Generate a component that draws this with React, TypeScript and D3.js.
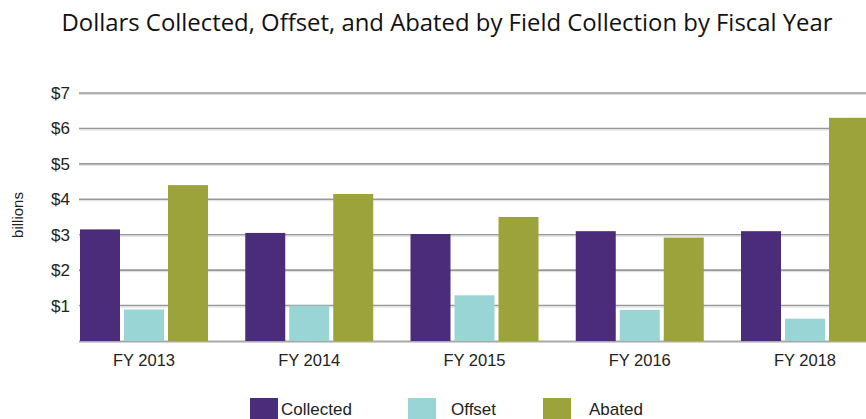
import React from "react";
import * as d3 from "d3";

const categories = ["FY 2013", "FY 2014", "FY 2015", "FY 2016", "FY 2018"];
const seriesNames = ["Collected", "Offset", "Abated"];
const collected = [3.15, 3.05, 3.02, 3.1, 3.1];
const offset = [0.89, 1.0, 1.29, 0.88, 0.63];
const abated = [4.4, 4.15, 3.5, 2.92, 6.3];
const yTicks = [1, 2, 3, 4, 5, 6, 7];
const colors = ["#4b2c7a", "#98d5d4", "#9ca33a"];
const title = "Dollars Collected, Offset, and Abated by Field Collection by Fiscal Year";

const W = 866;
const H = 419;
const left = 80;
const baseY = 341;
const topY = 93;

export default function App() {
  const series = [collected, offset, abated];
  const x0 = d3
    .scaleBand<string>()
    .domain(categories)
    .range([left, left + 4 * 165.25 + 128])
    .paddingInner(37.25 / 165.25)
    .paddingOuter(0);
  const x1 = d3
    .scaleBand<string>()
    .domain(seriesNames)
    .range([0, x0.bandwidth()])
    .paddingInner(4 / 44)
    .paddingOuter(0);
  const y = d3.scaleLinear().domain([0, 7]).range([baseY, topY]);
  const font = "'Liberation Sans', Arial, sans-serif";

  const legendItems = [
    { sx: 250, tx: 281 },
    { sx: 408, tx: 451 },
    { sx: 543, tx: 589 },
  ];

  return (
    <div style={{ position: "absolute", left: 0, top: 0 }}>
      <svg width={W} height={H} style={{ display: "block", background: "#fff" }}>
        <defs>
          <clipPath id="plotclip">
            <rect x={0} y={0} width={W} height={H} />
          </clipPath>
        </defs>
        <g transform="translate(447,31) scale(1,1.1)">
          <text
            x={0}
            y={0}
            textAnchor="middle"
            fontFamily="'Open Sans', sans-serif"
            fontSize={22}
            textLength={771}
            lengthAdjust="spacingAndGlyphs"
            fill="#111"
          >
            {title}
          </text>
        </g>
        {yTicks.map((t) => (
          <g key={t}>
            <line x1={79} x2={W} y1={y(t)} y2={y(t)} stroke="#999" strokeWidth={1.6} />
            <line x1={79} x2={W} y1={y(t) + 1.5} y2={y(t) + 1.5} stroke="#dcdcdc" strokeWidth={1} />
            <text
              x={70}
              y={y(t)}
              dy="0.35em"
              textAnchor="end"
              fontFamily={font}
              fontSize={17}
              fill="#222"
            >
              {"$" + t}
            </text>
          </g>
        ))}
        <line x1={79} x2={W} y1={baseY + 0.5} y2={baseY + 0.5} stroke="#a8a8a8" strokeWidth={2} />
        <g clipPath="url(#plotclip)">
          {categories.map((c, i) => (
            <g key={c} transform={`translate(${x0(c)},0)`}>
              {seriesNames.map((s, j) => (
                <rect
                  key={s}
                  x={x1(s)}
                  y={y(series[j][i])}
                  width={x1.bandwidth()}
                  height={baseY - y(series[j][i])}
                  fill={colors[j]}
                />
              ))}
            </g>
          ))}
        </g>
        {categories.map((c) => (
          <text
            key={c}
            x={(x0(c) as number) + x0.bandwidth() / 2}
            y={366}
            textAnchor="middle"
            fontFamily={font}
            fontSize={16.5}
            fill="#222"
          >
            {c}
          </text>
        ))}
        <text
          transform={`translate(23,215) rotate(-90)`}
          textAnchor="middle"
          fontFamily={font}
          fontSize={15}
          fill="#222"
        >
          billions
        </text>
        {seriesNames.map((s, j) => (
          <g key={s}>
            <rect x={legendItems[j].sx} y={398} width={28} height={21} fill={colors[j]} />
            <text
              x={legendItems[j].tx}
              y={415}
              fontFamily={font}
              fontSize={17}
              fill="#222"
            >
              {s}
            </text>
          </g>
        ))}
      </svg>
    </div>
  );
}
